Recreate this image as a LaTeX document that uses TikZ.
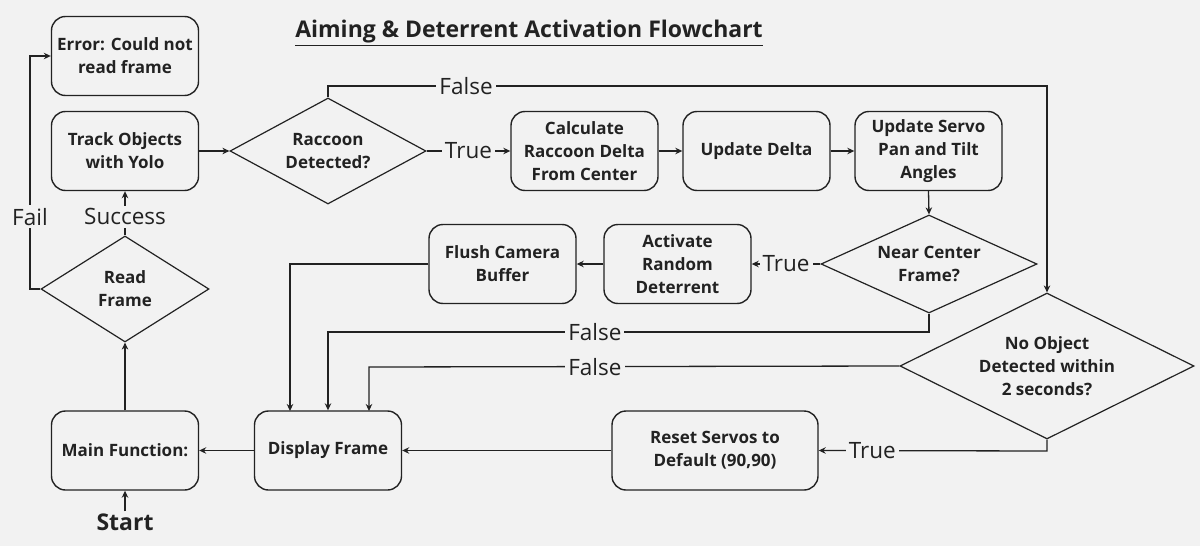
\documentclass[tikz,border=0pt]{standalone}
\usepackage{fontspec}
\setmainfont{Open Sans}
\usetikzlibrary{shapes.geometric,arrows.meta}
\definecolor{bg}{HTML}{F2F2F2}
\definecolor{ink}{HTML}{222222}
\begin{document}
\begin{tikzpicture}[x=1pt,y=-1pt,
  box/.style={draw=ink, line width=1.4pt, rounded corners=14pt, minimum width=147pt, minimum height=79pt, align=center, font=\bfseries\fontsize{17}{23}\selectfont, text=ink, inner sep=2pt},
  dia/.style={draw=ink, line width=1.2pt, shape=diamond, inner sep=0pt},
  dtxt/.style={align=center, font=\bfseries\fontsize{17}{23}\selectfont, text=ink, inner sep=0pt},
  arr/.style={draw=ink, line width=1.3pt, -{Stealth[length=7pt,width=6.5pt]}},
  lbl/.style={fill=bg, text=ink, font=\fontsize{22.5}{26}\selectfont, inner sep=3pt}]
\fill[bg] (0,0) rectangle (1200,546);
\useasboundingbox (0,0) rectangle (1200,546);

\node[font=\bfseries\fontsize{23}{27}\selectfont, text=ink] (title) at (529,33) {\underline{Aiming \& Deterrent Activation Flowchart}};

\node[box] (err) at (125,56) {Error: Could not\\read frame};
\node[box] (track) at (125,151) {Track Objects\\with Yolo};
\node[dia, minimum width=196pt, minimum height=106pt] (rac) at (328,151) {};
\node[dtxt] at (rac) {Raccoon\\Detected?};
\node[box] (calc) at (584.5,151) {Calculate\\Raccoon Delta\\From Center};
\node[box] (upd) at (756.5,151) {Update Delta};
\node[box] (servo) at (928.5,151) {Update Servo\\Pan and Tilt\\Angles};
\node[dia, minimum width=216pt, minimum height=98pt] (near) at (929,264) {};
\node[dtxt] at (near) {Near Center\\Frame?};
\node[box] (act) at (677.5,264) {Activate\\Random\\Deterrent};
\node[box] (flush) at (502.5,264) {Flush Camera\\Buffer};
\node[dia, minimum width=294pt, minimum height=146pt] (noobj) at (1047,366) {};
\node[dtxt] at (noobj) {No Object\\Detected within\\2 seconds?};
\node[dia, minimum width=168pt, minimum height=106pt] (read) at (125,289) {};
\node[dtxt] at (read) {Read\\Frame};
\node[box] (main) at (125,450.5) {Main Function:};
\node[box] (disp) at (328,450.5) {Display Frame};
\node[box, minimum width=206pt] (reset) at (715,450.5) {Reset Servos to\\Default (90,90)};
\node[font=\bfseries\fontsize{23}{27}\selectfont, text=ink, inner sep=2pt] (start) at (125,522) {Start};

\draw[arr] (start.north) -- (main.south);
\draw[arr] (main.north) -- (read.south);
\draw[arr] (read.north) -- node[lbl, pos=0.42] {Success} (track.south);
\draw[arr] (read.west) -- (30,289) -- node[lbl, pos=0.31] {Fail} (30,56) -- (err.west);
\draw[arr] (track.east) -- (rac.west);
\draw[arr] (rac.east) -- node[lbl] {True} (calc.west);
\draw[arr] (calc.east) -- (upd.west);
\draw[arr] (upd.east) -- (servo.west);
\draw[arr] (servo.south) -- (near.north);
\draw[arr] (rac.north) -- (328,86) -- node[lbl, pos=0.192] {False} (1047,86) -- (noobj.north);
\draw[arr] (near.west) -- node[lbl] {True} (act.east);
\draw[arr] (act.west) -- (flush.east);
\draw[arr] (flush.west) -- (290,264) -- (290,411);
\draw[arr] (near.south) -- (929,332) -- node[lbl, pos=0.556] {False} (328,332) -- (disp.north);
\draw[arr] (noobj.west) -- node[lbl, pos=0.574] {False} (369,367) -- (369,411);
\draw[arr] (noobj.south) -- (1047,451) -- node[lbl, pos=0.765] {True} (reset.east);
\draw[arr] (reset.west) -- (disp.east);
\draw[arr] (disp.west) -- (main.east);
\end{tikzpicture}
\end{document}
